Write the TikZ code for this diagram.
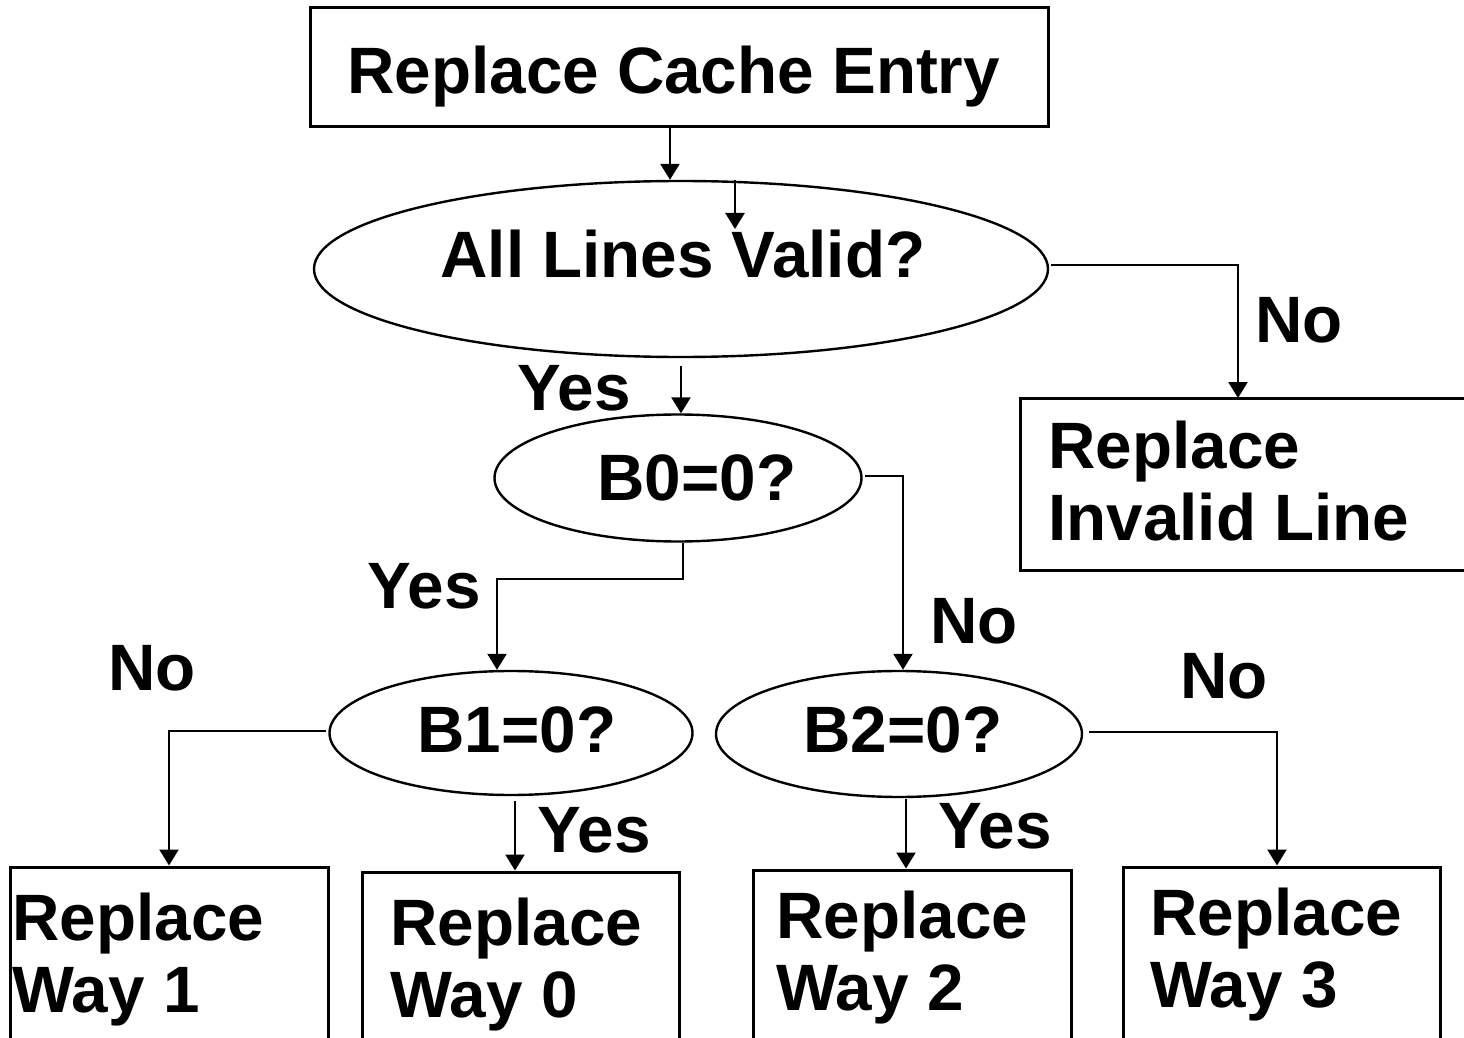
\documentclass[tikz,border=0pt]{standalone}
\usepackage{fontspec}
\setmainfont{Liberation Sans}
\usetikzlibrary{shapes.geometric,arrows.meta,calc}
\begin{document}
\begin{tikzpicture}[x=0.5pt,y=-0.5pt,
  box/.style={draw,line width=1.5pt,rectangle,inner sep=0pt},
  oval/.style={draw,line width=1.2pt,ellipse,inner sep=0pt},
  txt/.style={anchor=base west,inner sep=0pt,font=\fontsize{32.8}{36}\selectfont\bfseries},
  arr/.style={line width=1.2pt,-{Triangle[width=9.5pt,length=8pt]}},
  ln/.style={line width=1.2pt}]
\useasboundingbox (0,0) rectangle (1464,1038);
\clip (0,0) rectangle (1464,1038);
% shapes
\node[box,minimum width=369pt,minimum height=59.5pt] (top) at (679,67.5) {};
\node[oval,minimum width=367pt,minimum height=88pt] (e1) at (681,269) {};
\node[box,minimum width=225pt,minimum height=86pt] (rinv) at (1245,484) {};
\node[oval,minimum width=183.5pt,minimum height=63.5pt] (b0) at (678,478) {};
\node[oval,minimum width=181.5pt,minimum height=62pt] (b1) at (511,733) {};
\node[oval,minimum width=183pt,minimum height=63pt] (b2) at (899,734) {};
\node[box,minimum width=159pt,minimum height=96.5pt] (w1) at (169,963.5) {};
\node[box,minimum width=158.5pt,minimum height=94pt] (w0) at (520.5,966) {};
\node[box,minimum width=159pt,minimum height=95pt] (w2) at (912,965) {};
\node[box,minimum width=158.5pt,minimum height=96.5pt] (w3) at (1281.5,963.5) {};
% texts
\node[txt] (ttop) at (347,94) {Replace Cache Entry};
\node[txt] (te1) at (440,278) {All Lines Valid?};
\node[txt] (tb0) at (597,500) {B0=0?};
\node[txt] (tb1) at (417,752) {B1=0?};
\node[txt] (tb2) at (803,752) {B2=0?};
\node[txt] (trinva) at (1048,468) {Replace};
\node[txt] (trinvb) at (1048,540) {Invalid Line};
\node[txt] (tw1a) at (12,940) {Replace};
\node[txt] (tw1b) at (12,1012) {Way 1};
\node[txt] (tw0a) at (390,945) {Replace};
\node[txt] (tw0b) at (390,1017) {Way 0};
\node[txt] (tw2a) at (776,938) {Replace};
\node[txt] (tw2b) at (776,1010) {Way 2};
\node[txt] (tw3a) at (1150,935) {Replace};
\node[txt] (tw3b) at (1150,1007) {Way 3};
% labels
\node[txt] (lno1) at (1255,343) {No};
\node[txt] (lyes1) at (517,410) {Yes};
\node[txt] (lyes2) at (367,608) {Yes};
\node[txt] (lno2) at (930,643) {No};
\node[txt] (lno3) at (108,690) {No};
\node[txt] (lno4) at (1180,698) {No};
\node[txt] (lyes3) at (537,852) {Yes};
\node[txt] (lyes4) at (938,848) {Yes};
% connectors
\coordinate (vtip) at (735,229);
\coordinate (rinvin) at (1238,398);
\draw[arr] ([xshift=-4.5pt]top.south) -- ([xshift=-4.5pt]top.south |- e1.north);
\draw[arr] (vtip |- e1.north) -- (vtip);
\draw[arr] ([xshift=1pt,yshift=2pt]e1.east) -| (rinvin);
\draw[arr] ([yshift=-4pt]e1.south) -- (e1.south |- b0.north);
\draw[arr] ([xshift=2.5pt]b0.south) -- ++(0,36) -| ([xshift=-7pt]b1.north);
\draw[arr] ([xshift=1pt,yshift=1pt]b0.east) -| ([xshift=2pt]b2.north);
\draw[arr] ([xshift=-1pt,yshift=1pt]b1.west) -| (w1.north);
\draw[arr] ([xshift=2pt,yshift=-2.5pt]b1.south) -- ([xshift=2pt]b1.south |- w0.north);
\draw[arr] ([xshift=3.5pt,yshift=-0.5pt]b2.south) -- ([xshift=3.5pt]b2.south |- w2.north);
\draw[arr] ([xshift=3pt,yshift=1pt]b2.east) -| ([xshift=-2.25pt]w3.north);
\end{tikzpicture}
\end{document}
